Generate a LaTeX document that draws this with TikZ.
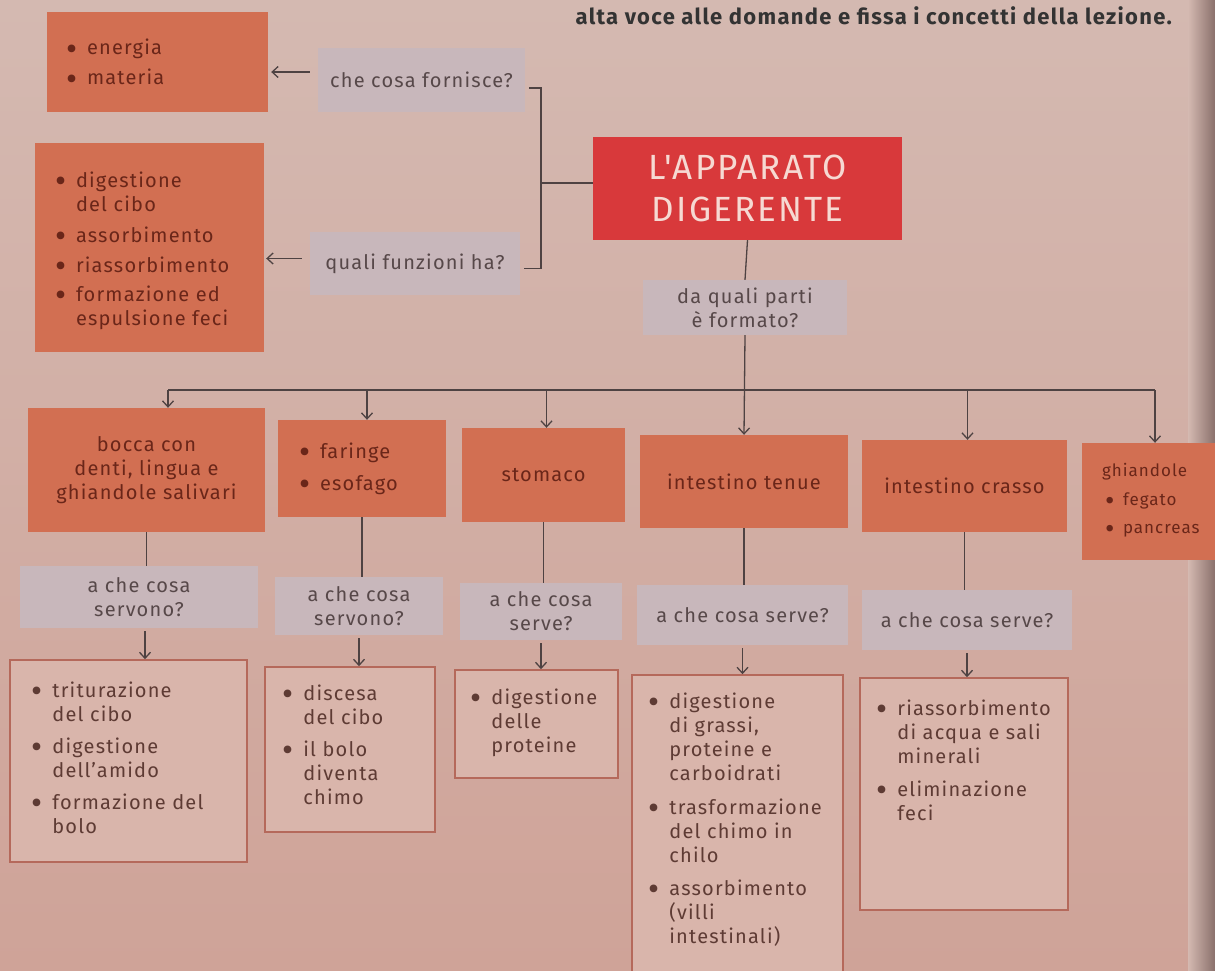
\documentclass[tikz,border=0pt]{standalone}
\usepackage{fontspec}
\setmainfont{Fira Sans}[LetterSpace=6.0]
\newfontfamily\titlefont{Fira Sans}[LetterSpace=6.0]
\usetikzlibrary{arrows.meta,calc}
\definecolor{bgtop}{HTML}{D4B9B1}
\definecolor{bgbot}{HTML}{CFA398}
\definecolor{gutter}{HTML}{8A706B}
\definecolor{org}{HTML}{D26F52}
\definecolor{orgtxt}{HTML}{6A2619}
\definecolor{ttl}{HTML}{D8393B}
\definecolor{ttltxt}{HTML}{F6D9D2}
\definecolor{qfill}{HTML}{C8B7BB}
\definecolor{qtxt}{HTML}{574849}
\definecolor{afill}{HTML}{D9B5AB}
\definecolor{aline}{HTML}{B5695B}
\definecolor{atxt}{HTML}{5E3B34}
\definecolor{ln}{HTML}{4E4242}
\newcommand{\dotb}{\smash{\raisebox{-0.27em}{\scalebox{1.7}{\textbullet}}}}
\newcommand{\itm}{\makebox[21pt][l]{\dotb}}
\newcommand{\ind}{\hspace*{21pt}}
\tikzset{
  base/.style={font=\fontsize{20}{24}\selectfont},
  obox/.style={base, fill=org, text=orgtxt, inner sep=0pt, align=center},
  qbox/.style={base, fill=qfill, text=qtxt, inner sep=0pt, align=center},
  abox/.style={fill=afill, draw=aline, line width=1.6pt, inner sep=0pt},
  otext/.style={base, text=orgtxt, align=left, inner sep=0pt, anchor=west},
  atext/.style={base, text=atxt, align=left, inner sep=0pt, anchor=north west},
  conn/.style={draw=ln, line width=1.3pt},
  arr/.style={conn, -{Straight Barb[length=6pt,width=11pt,line width=1.3pt]}},
}
\begin{document}
\begin{tikzpicture}[x=1pt,y=-1pt]
\useasboundingbox (0,0) rectangle (1215,970);
\shade[top color=bgtop, bottom color=bgbot] (0,0) rectangle (1215,970);
\shade[left color=bgtop, right color=gutter] (1188,0) rectangle (1215,970);

\node[font=\bfseries\fontsize{22}{24}\selectfont, text=black!80, anchor=base east, inner sep=0pt] (intro) at (1172,24) {alta voce alle domande e fissa i concetti della lezione.};

% top left column
\node[obox, minimum width=221pt, minimum height=100pt] (energia) at (157.5,62) {};
\node[otext] (energiat) at ([xshift=19pt]energia.west) {\itm energia\\[6pt]\itm materia};
\node[qbox, minimum width=207pt, minimum height=64pt] (fornisce) at (421.5,80) {che cosa fornisce?};

\node[obox, minimum width=229pt, minimum height=209pt] (funzioni) at (149.5,247.5) {};
\node[otext] (funzionit) at ([xshift=20pt,yshift=-3pt]funzioni.west) {\itm digestione\\ \ind del cibo\\[7pt] \itm assorbimento\\[6pt] \itm riassorbimento\\[5pt] \itm formazione ed\\ \ind espulsione feci};
\node[qbox, minimum width=210pt, minimum height=63pt] (qfunz) at (415,263.5) {quali funzioni ha?};

% title
\node[fill=ttl, text=ttltxt, minimum width=309pt, minimum height=103pt, inner sep=0pt, align=center, font=\titlefont\fontsize{35}{42}\selectfont] (titolo) at (747.5,188.5) {L'APPARATO\\DIGERENTE};
\node[qbox, minimum width=204pt, minimum height=55pt] (daquali) at (745,307.5) {da quali parti\\è formato?};

% organs
\node[obox, minimum width=237pt, minimum height=124pt] (bocca) at (146.5,470) {bocca con\\denti, lingua e\\ghiandole salivari};
\node[obox, minimum width=168pt, minimum height=97pt] (faringe) at (362,468.5) {};
\node[otext] (faringet) at ([xshift=21pt]faringe.west) {\itm faringe\\[8pt]\itm esofago};
\node[obox, minimum width=163pt, minimum height=94pt] (stomaco) at (543.5,475) {stomaco};
\node[obox, minimum width=208pt, minimum height=93pt] (tenue) at (744,481.5) {intestino tenue};
\node[obox, minimum width=205pt, minimum height=92pt] (crasso) at (964.5,486) {intestino crasso};
\node[obox, minimum width=146pt, minimum height=117pt] (ghiand) at (1155,501.5) {};
\node[otext, font=\fontsize{17}{22}\selectfont] (ghiandt) at ([xshift=20pt,yshift=1pt]ghiand.west) {ghiandole\\[7pt]\hspace*{3pt}\makebox[18pt][l]{\dotb}fegato\\[6pt]\hspace*{3pt}\makebox[18pt][l]{\dotb}pancreas};

% questions
\node[qbox, minimum width=238pt, minimum height=62pt] (qbocca) at (139,597) {a che cosa\\servono?};
\node[qbox, minimum width=168pt, minimum height=58pt] (qfaringe) at (359,606) {a che cosa\\servono?};
\node[qbox, minimum width=162pt, minimum height=57pt] (qstomaco) at (541,611.5) {a che cosa\\serve?};
\node[qbox, minimum width=211pt, minimum height=60pt] (qtenue) at (742.5,615) {a che cosa serve?};
\node[qbox, minimum width=210pt, minimum height=60pt] (qcrasso) at (967,620) {a che cosa serve?};

% answers
\node[abox, minimum width=237pt, minimum height=202pt] (abocca) at (128.5,761) {};
\node[atext] (aboccat) at ([xshift=22pt,yshift=-22pt]abocca.north west) {\itm triturazione\\ \ind del cibo\\[8pt] \itm digestione\\ \ind dell'amido\\[8pt] \itm formazione del\\ \ind bolo};
\node[abox, minimum width=170pt, minimum height=165pt] (afaringe) at (350,749.5) {};
\node[atext] (afaringet) at ([xshift=18pt,yshift=-18pt]afaringe.north west) {\itm discesa\\ \ind del cibo\\[8pt] \itm il bolo\\ \ind diventa\\ \ind chimo};
\node[abox, minimum width=163pt, minimum height=108pt] (astomaco) at (536.5,724) {};
\node[atext] (astomacot) at ([xshift=16pt,yshift=-19pt]astomaco.north west) {\itm digestione\\ \ind delle\\ \ind proteine};
\node[abox, minimum width=211pt, minimum height=320pt] (atenue) at (737.5,835) {};
\node[atext] (atenuet) at ([xshift=17pt,yshift=-18pt]atenue.north west) {\itm digestione\\ \ind di grassi,\\ \ind proteine e\\ \ind carboidrati\\[10pt] \itm trasformazione\\ \ind del chimo in\\ \ind chilo\\[9pt] \itm assorbimento\\ \ind (villi\\ \ind intestinali)};
\node[abox, minimum width=208pt, minimum height=232pt] (acrasso) at (964,794) {};
\node[atext] (acrassot) at ([xshift=17pt,yshift=-22pt]acrasso.north west) {\itm riassorbimento\\ \ind di acqua e sali\\ \ind minerali\\[9pt] \itm eliminazione\\ \ind feci};

% connectors top
\draw[arr, shorten <=8pt, shorten >=3pt] (fornisce.west |- energia.east) ++(0,10) coordinate (fw) (fw) -- (fw -| energia.east);
\draw[arr, shorten <=8pt, shorten >=2pt] ([yshift=5pt]qfunz.west) -- ([yshift=5pt]qfunz.west -| funzioni.east);
\coordinate (jn) at (541,183);
\draw[conn] ([xshift=4pt,yshift=-8pt]fornisce.east) -| (jn) |- ([xshift=4pt,yshift=-5pt]qfunz.east);
\draw[conn] (jn) -- (jn -| titolo.west);
\draw[conn] (titolo.south) -- (daquali.north);

% bus
\coordinate (bus) at (0,390);
\draw[conn] ([xshift=21.5pt]bocca.north |- bus) -- (ghiand.north |- bus);
\draw[arr] (daquali.south) -- (tenue.north);
\draw[arr] ([xshift=21.5pt]bocca.north |- bus) -- ([xshift=21.5pt]bocca.north);
\draw[arr] ([xshift=5pt]faringe.north |- bus) -- ([xshift=5pt]faringe.north);
\draw[arr] ([xshift=3pt]stomaco.north |- bus) -- ([xshift=3pt]stomaco.north);
\draw[arr] ([xshift=3pt]crasso.north |- bus) -- ([xshift=3pt]crasso.north);
\draw[arr] (ghiand.north |- bus) -- (ghiand.north);

% organ -> question
\draw[conn] (bocca.south) -- (bocca.south |- qbocca.north);
\draw[conn] (faringe.south) -- (faringe.south |- qfaringe.north);
\draw[conn] (stomaco.south) -- (stomaco.south |- qstomaco.north);
\draw[conn] (tenue.south) -- (tenue.south |- qtenue.north);
\draw[conn] (crasso.south) -- (crasso.south |- qcrasso.north);

% question -> answer
\draw[arr, shorten <=3pt] ([xshift=6pt]qbocca.south) -- ([xshift=6pt]qbocca.south |- abocca.north);
\draw[arr, shorten <=3pt] (qfaringe.south) -- (qfaringe.south |- afaringe.north);
\draw[arr, shorten <=3pt] (qstomaco.south) -- (qstomaco.south |- astomaco.north);
\draw[arr, shorten <=3pt] (qtenue.south) -- (qtenue.south |- atenue.north);
\draw[arr, shorten <=3pt] (qcrasso.south) -- (qcrasso.south |- acrasso.north);
\end{tikzpicture}
\end{document}
